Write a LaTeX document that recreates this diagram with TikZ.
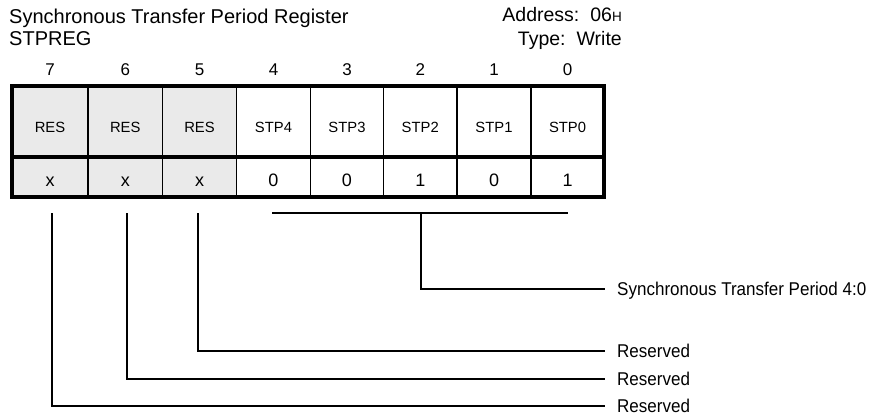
\documentclass[tikz,border=0pt]{standalone}
\usepackage{fontspec}
\setmainfont{Liberation Sans}
\definecolor{resgrey}{RGB}{234,234,234}
\begin{document}
\begin{tikzpicture}[x=1pt,y=-1pt,
  cellbox/.style={draw=black,line width=1.5pt,inner sep=0pt,outer sep=0pt},
  celltext/.style={anchor=base,inner sep=0pt,font=\fontsize{14.8}{15}\selectfont},
  valtext/.style={anchor=base,inner sep=0pt,font=\fontsize{18}{18}\selectfont},
  bittext/.style={anchor=base,inner sep=0pt,font=\fontsize{17}{17}\selectfont},
  titletext/.style={anchor=base west,inner sep=0pt,font=\fontsize{20}{20}\selectfont},
  infotext/.style={anchor=base east,inner sep=0pt,font=\fontsize{19.5}{19.5}\selectfont},
  fieldlbl/.style={anchor=base west,inner sep=0pt,font=\fontsize{18.5}{18.5}\selectfont},
  conn/.style={draw=black,line width=2pt}]
\useasboundingbox (0,0) rectangle (883,417);

% titles
\node[titletext] (title) at (9,23.5) {Synchronous Transfer Period Register};
\node[titletext] (regname) at (9,45.5) {STPREG};
\node[infotext] (addr) at (622,21.5) {Address:\hspace{11pt}06{\fontsize{13.5}{13.5}\selectfont H}};
\node[infotext] (type) at (622,45.5) {Type:\hspace{11pt}Write};

% register cells
\foreach \l/\r/\b/\n/\v/\f in {
  12/88/7/RES/x/resgrey,
  88/162.5/6/RES/x/resgrey,
  162.5/236.5/5/RES/x/resgrey,
  236.5/310.5/4/STP4/0/white,
  310.5/383.5/3/STP3/0/white,
  383.5/457/2/STP2/1/white,
  457/531/1/STP1/0/white,
  531/604/0/STP0/1/white}{
  \node[cellbox,fill=\f,minimum width={(\r-\l)*1pt},minimum height=70.5pt] (c\b) at ({(\l+\r)/2},121.25) {};
  \node[cellbox,fill=\f,minimum width={(\r-\l)*1pt},minimum height=40pt] (v\b) at ({(\l+\r)/2},176.5) {};
  \node[celltext] (n\b) at ({(\l+\r)/2},132.5) {\n};
  \node[valtext] (x\b) at ({(\l+\r)/2},186) {\v};
  \node[bittext] (b\b) at ({(\l+\r)/2},75.7) {\b};
}
\draw[line width=4pt] (c7.north west) rectangle (v0.south east);
\draw[line width=4pt] (c7.south west) -- (c0.south east);

% connectors
\coordinate (brL) at (272,213);
\coordinate (brR) at (568,213);
\coordinate (brM) at (421,213);
\coordinate (s7) at (52,213);
\coordinate (s6) at (127,213);
\coordinate (s5) at (198,213);

\node[fieldlbl] (lstp) at (617,295.5) {\scalebox{0.92}[1]{Synchronous Transfer Period 4:0}};
\node[fieldlbl] (lr5) at (617,357.5) {\scalebox{0.92}[1]{Reserved}};
\node[fieldlbl] (lr6) at (617,385.5) {\scalebox{0.92}[1]{Reserved}};
\node[fieldlbl] (lr7) at (617,412.5) {\scalebox{0.92}[1]{Reserved}};

\coordinate (e4) at (605,289);
\coordinate (e5) at (605,351);
\coordinate (e6) at (605,379);
\coordinate (e7) at (605,406);

\draw[conn] (brL) -- (brR);
\draw[conn] (brM) |- (e4);
\draw[conn] (s5) |- (e5);
\draw[conn] (s6) |- (e6);
\draw[conn] (s7) |- (e7);
\end{tikzpicture}
\end{document}
